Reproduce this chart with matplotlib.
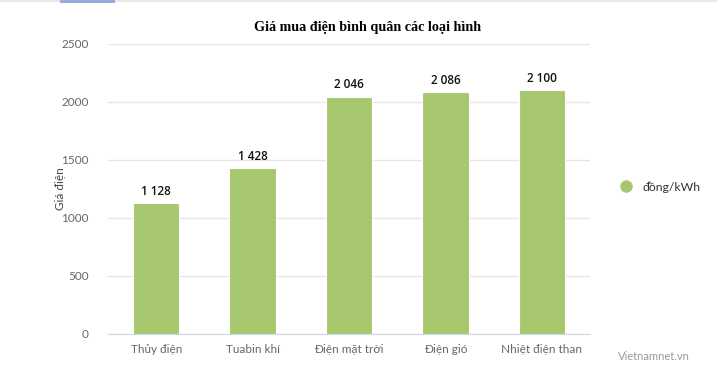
import matplotlib.pyplot as plt
from matplotlib.lines import Line2D

# --- Data ---
categories = ['Thủy điện', 'Tuabin khí', 'Điện mặt trời', 'Điện gió', 'Nhiệt điện than']
prices = [1128, 1428, 2046, 2086, 2100]
y_ticks = [0, 500, 1000, 1500, 2000, 2500]

BAR_COLOR = '#a7c76e'
plt.rcParams['font.family'] = ['Lato', 'DejaVu Sans']

fig = plt.figure(figsize=(7.17, 3.78), dpi=100)
ax = fig.add_axes([108 / 717, 1 - 334 / 378, 482 / 717, 290 / 378])

x = range(len(categories))
bars = ax.bar(x, prices, width=0.48, color=BAR_COLOR, edgecolor='white', linewidth=0.8, zorder=3)

for xi, v in zip(x, prices):
    label = f'{v:,}'.replace(',', ' ')
    ax.text(xi, v + 45, label, ha='center', va='bottom', fontsize=8.5, fontweight=600,
            family=['Open Sans', 'DejaVu Sans'], color='#111111')

ax.set_xlim(-0.5, len(categories) - 0.5)
ax.set_ylim(0, 2500)
ax.set_yticks(y_ticks)
ax.set_yticklabels([str(t) for t in y_ticks])
ax.set_xticks(list(x))
ax.set_xticklabels(categories)
ax.tick_params(axis='both', length=0, labelsize=8.5, labelcolor='#666666')
ax.tick_params(axis='y', pad=14)
ax.tick_params(axis='x', pad=7)
ax.grid(axis='y', color='#e6e6e6', linewidth=1, zorder=0)
for s in ['top', 'right', 'left']:
    ax.spines[s].set_visible(False)
ax.spines['bottom'].set_color('#ccd6eb')
ax.spines['bottom'].set_zorder(4)

ax.set_ylabel('Giá điện', fontsize=8.5, color='#444444')
ax.yaxis.set_label_coords((66 - 108) / 482, 0.5)

fig.text(368 / 717, 1 - 27 / 378, 'Giá mua điện bình quân các loại hình', ha='center', va='center',
         fontsize=10.2, fontweight='bold', family=['Liberation Serif', 'DejaVu Serif'], color='#000000')

# legend
handle = Line2D([], [], marker='o', linestyle='none', markersize=8, color=BAR_COLOR)
fig.legend([handle], ['đồng/kWh'], loc='center left', bbox_to_anchor=(603 / 717, 1 - 187 / 378),
           frameon=False, fontsize=8.8, handletextpad=0.3, labelcolor='#333333')

# watermark
fig.text(690 / 717, 1 - 357 / 378, 'Vietnamnet.vn', ha='right', va='center', fontsize=8, color='#999999')

# top strip
fig.add_artist(Line2D([0, 1], [0.998, 0.998], color='#e8e8e8', linewidth=1.5))
fig.add_artist(Line2D([61 / 717, 113 / 717], [0.997, 0.997], color='#8fa8d8', linewidth=2))

fig.savefig('out.png', dpi=100)
